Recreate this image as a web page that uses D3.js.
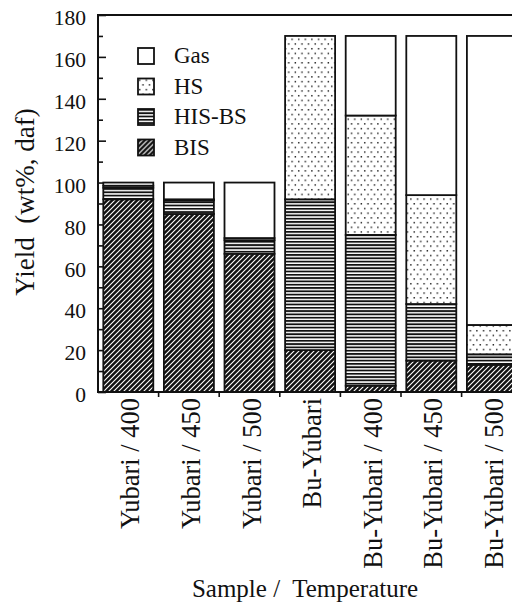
<!DOCTYPE html>
<html>
<head>
<meta charset="utf-8">
<script src="https://cdn.jsdelivr.net/npm/d3@7"></script>
<style>
  body { margin: 0; background: #fff; }
  svg text { font-family: "Liberation Serif", "DejaVu Serif", serif; }
</style>
</head>
<body>
<div id="chart"></div>
<script>
// values (wt%, daf)
var samples = ["Yubari / 400", "Yubari / 450", "Yubari / 500", "Bu-Yubari",
               "Bu-Yubari / 400", "Bu-Yubari / 450", "Bu-Yubari / 500"];
var bis   = [92, 85, 66, 20, 3, 15, 13];
var hisbs = [5.5, 6.5, 6.5, 72, 72, 27, 5];
var hs    = [1, 0.5, 1, 78, 57, 52, 14];
var gas   = [1.5, 8, 26.5, 0, 38, 76, 138];
var yTicks = [0, 20, 40, 60, 80, 100, 120, 140, 160, 180];
var yMinor = [10, 30, 50, 70, 90, 110, 130, 150, 170];
var legendKeys = ["Gas", "HS", "HIS-BS", "BIS"];

var W = 512, H = 604;
var plotLeft = 98, plotTop = 15, plotBottom = 392;

var rows = samples.map(function(s, i) {
  return {sample: s, "BIS": bis[i], "HIS-BS": hisbs[i], "HS": hs[i], "Gas": gas[i]};
});
var stack = d3.stack().keys(["BIS", "HIS-BS", "HS", "Gas"])(rows);

var svg = d3.select("#chart").append("svg")
  .attr("width", W)
  .attr("height", H)
  .style("display", "block");

// fill patterns
var defs = svg.append("defs");

var pBis = defs.append("pattern").attr("id", "p-BIS")
  .attr("patternUnits", "userSpaceOnUse").attr("width", 5).attr("height", 5);
pBis.append("rect").attr("width", 5).attr("height", 5).attr("fill", "#111");
pBis.append("path").attr("d", "M0,5L5,0M-1,1L1,-1M4,6L6,4")
  .attr("stroke", "#fff").attr("stroke-width", 1.1);

var pHis = defs.append("pattern").attr("id", "p-HIS-BS")
  .attr("patternUnits", "userSpaceOnUse").attr("width", 6).attr("height", 3.3);
pHis.append("rect").attr("width", 6).attr("height", 3.3).attr("fill", "#fff");
pHis.append("rect").attr("width", 6).attr("height", 1.8).attr("fill", "#111");

var pHs = defs.append("pattern").attr("id", "p-HS")
  .attr("patternUnits", "userSpaceOnUse").attr("width", 6.6).attr("height", 9.4);
pHs.append("rect").attr("width", 6.6).attr("height", 9.4).attr("fill", "#fff");
pHs.append("rect").attr("x", 1).attr("y", 1).attr("width", 1.4).attr("height", 1.4).attr("fill", "#111");
pHs.append("rect").attr("x", 4.3).attr("y", 5.7).attr("width", 1.4).attr("height", 1.4).attr("fill", "#111");

var fills = {"Gas": "#fff", "HS": "url(#p-HS)", "HIS-BS": "url(#p-HIS-BS)", "BIS": "url(#p-BIS)"};

var step = 60.6;
var x = d3.scaleBand()
  .domain(samples)
  .range([plotLeft, plotLeft + step * samples.length])
  .paddingInner(0.175)
  .paddingOuter(0.0875);

var y = d3.scaleLinear()
  .domain([0, 180])
  .range([plotBottom, plotTop]);

// y axis, ticks pointing inward
var yAxis = svg.append("g")
  .attr("transform", "translate(" + plotLeft + ",0)")
  .call(d3.axisLeft(y).tickValues(yTicks).tickSize(-8).tickPadding(12));
yAxis.attr("font-family", null).attr("font-size", 21.5);
yAxis.select(".domain").remove();
yAxis.selectAll("line").attr("stroke", "#111").attr("stroke-width", 1.6);
yAxis.selectAll("text")
  .attr("dy", "0.45em")
  .attr("fill", "#111");

var yAxis2 = svg.append("g")
  .attr("transform", "translate(" + plotLeft + ",0)")
  .call(d3.axisLeft(y).tickValues(yMinor).tickSize(-5).tickFormat(""));
yAxis2.select(".domain").remove();
yAxis2.selectAll("line").attr("stroke", "#111").attr("stroke-width", 1.6);

// x ticks between the bars, pointing down
svg.append("g").selectAll("line")
  .data(samples)
  .enter().append("line")
    .attr("x1", function(d) { return x(d) + x.bandwidth() + x.step() * x.paddingInner() / 2; })
    .attr("x2", function(d) { return x(d) + x.bandwidth() + x.step() * x.paddingInner() / 2; })
    .attr("y1", plotBottom)
    .attr("y2", plotBottom + 5)
    .attr("stroke", "#111")
    .attr("stroke-width", 1.6);

// bars
svg.append("g").selectAll("g")
  .data(stack)
  .enter().append("g")
    .attr("fill", function(d) { return fills[d.key]; })
  .selectAll("rect")
  .data(function(d) { return d.filter(function(s) { return s[1] > s[0]; }); })
  .enter().append("rect")
    .attr("x", function(d) { return x(d.data.sample); })
    .attr("y", function(d) { return y(d[1]); })
    .attr("width", x.bandwidth())
    .attr("height", function(d) { return y(d[0]) - y(d[1]); })
    .attr("stroke", "#111")
    .attr("stroke-width", 1.8);

// frame lines
svg.append("path")
  .attr("d", "M" + W + "," + plotTop + "H" + plotLeft + "V" + plotBottom + "H" + W)
  .attr("fill", "none")
  .attr("stroke", "#111")
  .attr("stroke-width", 2);

// x labels
svg.append("g").selectAll("text")
  .data(samples)
  .enter().append("text")
    .attr("transform", function(d) {
      return "translate(" + (x(d) + x.bandwidth() / 2 + 11) + ",398) rotate(-90)";
    })
    .attr("text-anchor", "end")
    .attr("font-size", 26.5)
    .attr("fill", "#111")
    .text(function(d) { return d; });

// legend
var lg = svg.append("g").selectAll("g")
  .data(legendKeys)
  .enter().append("g")
    .attr("transform", function(d, i) { return "translate(138," + (48 + i * 30.5) + ")"; });
lg.append("rect")
  .attr("width", 16)
  .attr("height", 16)
  .attr("fill", function(d) { return fills[d]; })
  .attr("stroke", "#111")
  .attr("stroke-width", 1.8);
lg.append("text")
  .attr("x", 36)
  .attr("y", 15)
  .attr("font-size", 23)
  .attr("fill", "#111")
  .text(function(d) { return d; });

// axis titles
svg.append("text")
  .attr("transform", "translate(34,202) rotate(-90)")
  .attr("text-anchor", "middle")
  .attr("font-size", 27)
  .style("white-space", "pre")
  .attr("fill", "#111")
  .text("Yield  (wt%, daf)");

svg.append("text")
  .attr("x", 305)
  .attr("y", 597)
  .attr("text-anchor", "middle")
  .attr("font-size", 25)
  .style("white-space", "pre")
  .attr("fill", "#111")
  .text("Sample /  Temperature");
</script>
</body>
</html>
